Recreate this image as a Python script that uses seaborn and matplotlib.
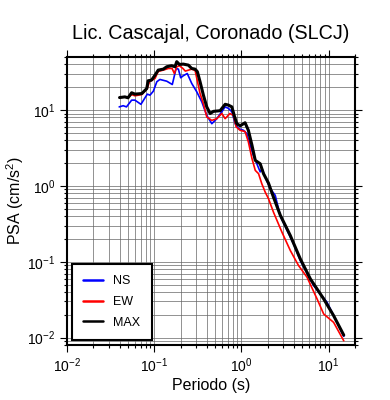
import matplotlib
matplotlib.use("Agg")
import matplotlib.pyplot as plt
import numpy as np
import pandas as pd
import seaborn as sns
from matplotlib.ticker import LogLocator, NullFormatter


# Periodos (s) y PSA (cm/s2)
PERIOD_MAX = [0.040, 0.046, 0.050, 0.055, 0.060, 0.072, 0.082, 0.085, 0.093, 0.102,
              0.111, 0.127, 0.139, 0.158, 0.173, 0.181, 0.194, 0.215, 0.246, 0.269,
              0.294, 0.312, 0.335, 0.366, 0.400, 0.437, 0.477, 0.569, 0.650, 0.710,
              0.776, 0.825, 0.885, 0.966, 1.10, 1.20, 1.32, 1.44, 1.64, 1.79,
              2.04, 2.33, 2.79, 3.63, 4.73, 6.17, 8.77, 11.4, 14.9]
PSA_MAX = [14.6, 14.9, 14.5, 16.9, 16.2, 16.5, 19.2, 24.3, 24.8, 28.8,
           33.6, 34.6, 37.2, 38.4, 37.2, 43.4, 39.9, 40.3, 39.1, 35.3,
           34.6, 32.0, 23.6, 15.7, 11.0, 9.0, 9.6, 9.8, 11.9, 11.6,
           11.0, 8.5, 6.6, 6.2, 6.8, 5.4, 3.43, 2.17, 1.96, 1.45,
           1.09, 0.71, 0.41, 0.222, 0.109, 0.0594, 0.0324, 0.0195, 0.0108]

PERIOD_NS = [0.0396, 0.044, 0.048, 0.055, 0.060, 0.0703, 0.0832, 0.0893, 0.0975, 0.107,
             0.116, 0.139, 0.161, 0.178, 0.189, 0.201, 0.215, 0.239, 0.269, 0.307,
             0.351, 0.400, 0.457, 0.522, 0.595, 0.650, 0.710, 0.776, 0.847, 0.925,
             1.055, 1.15, 1.26, 1.37, 1.50, 1.64, 1.72, 1.87, 2.14, 2.44,
             2.79, 3.96, 4.73, 6.73, 9.6, 14.9]
PSA_NS = [11.0, 11.4, 11.0, 13.5, 13.5, 11.9, 16.2, 15.7, 17.7, 23.6,
          25.3, 24.0, 21.7, 35.3, 34.6, 26.6, 28.3, 30.3, 22.4, 17.4,
          12.8, 8.5, 6.6, 7.7, 9.5, 11.0, 10.5, 9.5, 6.6, 5.7,
          5.4, 4.9, 3.43, 2.53, 1.96, 1.53, 1.69, 1.31, 0.92, 0.75,
          0.40, 0.172, 0.104, 0.0485, 0.0292, 0.0104]

PERIOD_EW = [0.040, 0.046, 0.050, 0.055, 0.060, 0.072, 0.083, 0.088, 0.102, 0.111,
             0.127, 0.145, 0.160, 0.170, 0.181, 0.194, 0.213, 0.227, 0.269, 0.294,
             0.335, 0.366, 0.400, 0.457, 0.522, 0.595, 0.650, 0.737, 0.809, 0.869,
             0.966, 1.10, 1.20, 1.32, 1.44, 1.57, 1.71, 1.87, 2.04, 2.33,
             2.91, 3.63, 4.52, 5.65, 7.36, 8.77, 11.4, 14.9]
PSA_EW = [14.6, 14.9, 14.5, 16.0, 15.4, 16.0, 19.2, 23.6, 26.1, 32.3,
          33.6, 35.3, 35.3, 30.3, 37.2, 38.4, 35.3, 32.6, 34.6, 33.2,
          16.5, 12.2, 8.1, 7.3, 7.7, 9.0, 7.7, 9.0, 8.5, 6.0,
          5.4, 5.2, 3.8, 2.29, 1.60, 1.45, 1.07, 0.83, 0.68, 0.45,
          0.246, 0.141, 0.089, 0.0626, 0.0324, 0.0205, 0.0159, 0.0091]

COMPONENTS = ["NS", "EW", "MAX"]
COLORS = {"NS": "#0000ff", "EW": "#ff0000", "MAX": "#000000"}
WIDTHS = {"NS": 1.2, "EW": 1.2, "MAX": 2.2}


def build_frame() -> pd.DataFrame:
    parts = []
    for name, t, v in [("NS", PERIOD_NS, PSA_NS), ("EW", PERIOD_EW, PSA_EW), ("MAX", PERIOD_MAX, PSA_MAX)]:
        parts.append(pd.DataFrame({"periodo": t, "psa": v, "comp": name}))
    return pd.concat(parts, ignore_index=True)


def main() -> None:
    sns.set_theme(style="ticks")
    plt.rcParams["font.family"] = ["Liberation Sans", "DejaVu Sans"]
    plt.rcParams["mathtext.fontset"] = "custom"
    plt.rcParams["mathtext.rm"] = "Liberation Sans"
    plt.rcParams["mathtext.it"] = "Liberation Sans:italic"
    plt.rcParams["mathtext.bf"] = "Liberation Sans:bold"
    for key in ["text.color", "axes.labelcolor", "xtick.color", "ytick.color"]:
        plt.rcParams[key] = "black"

    df = build_frame()
    fig = plt.figure(figsize=(3.9, 4.0), dpi=100)
    ax = fig.add_axes([0.172, 0.1375, 0.738, 0.72])

    for comp in COMPONENTS:
        sub = df[df["comp"] == comp]
        sns.lineplot(data=sub, x="periodo", y="psa", color=COLORS[comp], lw=WIDTHS[comp],
                     sort=False, estimator=None, label=comp, ax=ax)

    ax.set_xscale("log")
    ax.set_yscale("log")
    ax.set_xlim(0.01, 20)
    ax.set_ylim(0.008, 50)

    ax.xaxis.set_major_locator(LogLocator(base=10, numticks=10))
    ax.yaxis.set_major_locator(LogLocator(base=10, numticks=10))
    ax.xaxis.set_minor_locator(LogLocator(base=10, subs=np.arange(2, 10), numticks=20))
    ax.yaxis.set_minor_locator(LogLocator(base=10, subs=np.arange(2, 10), numticks=20))
    ax.xaxis.set_minor_formatter(NullFormatter())
    ax.yaxis.set_minor_formatter(NullFormatter())

    ax.grid(True, which="both", color="0.4", lw=0.5)
    ax.set_axisbelow(True)
    ax.tick_params(which="both", direction="out", top=True, right=True, color="black",
                   labelsize=10, width=0.8)
    ax.tick_params(which="major", length=5)
    ax.tick_params(which="minor", length=2.5)
    for sp in ax.spines.values():
        sp.set_linewidth(1.5)
        sp.set_color("black")

    ax.set_title("Lic. Cascajal, Coronado (SLCJ)", fontsize=14.2, pad=13)
    ax.set_xlabel("Periodo (s)", fontsize=11.5, labelpad=2)
    ax.set_ylabel("PSA (cm/s$^2$)", fontsize=11.5, labelpad=1)

    leg = ax.legend(loc="lower left", fontsize=9, frameon=True, fancybox=False,
                    handlelength=1.6, borderpad=0.9, labelspacing=0.7,
                    borderaxespad=0.4)
    leg.get_frame().set_edgecolor("black")
    leg.get_frame().set_linewidth(1.5)
    leg.get_frame().set_alpha(1)
    for line in leg.get_lines():
        line.set_linewidth(1.8)

    fig.savefig("out.png", dpi=100)
    plt.close(fig)


if __name__ == "__main__":
    main()
